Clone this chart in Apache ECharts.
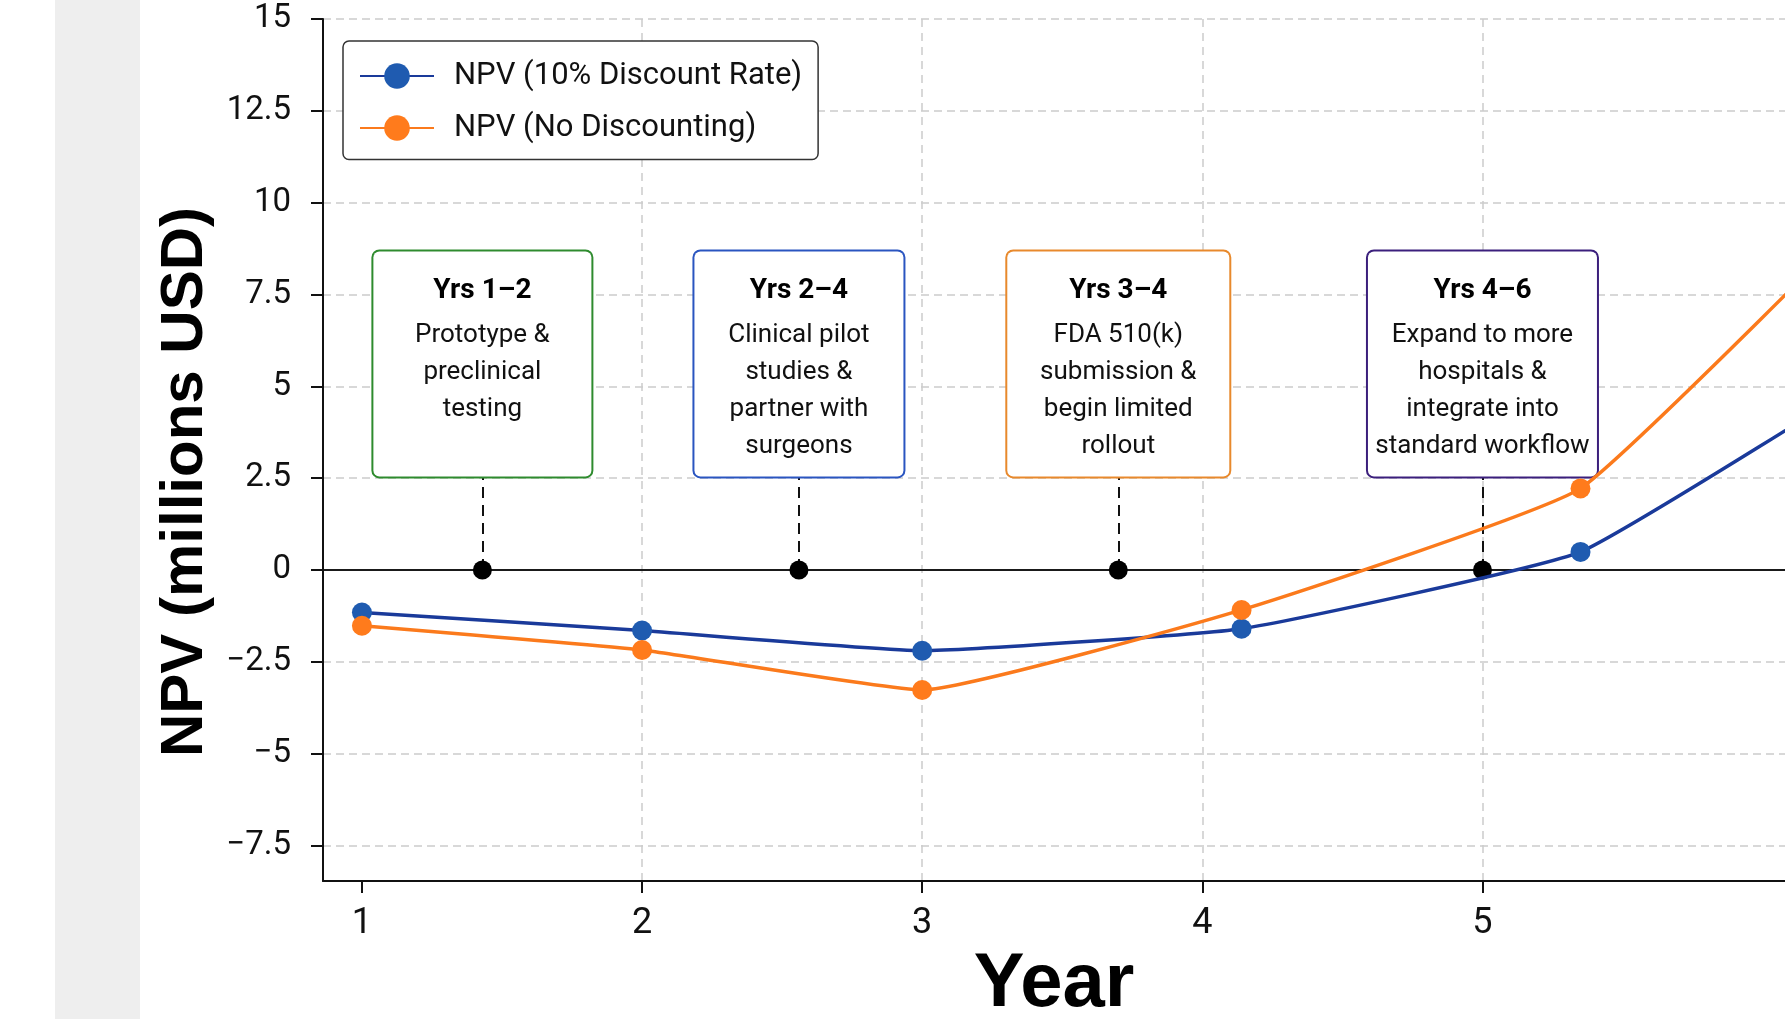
<!DOCTYPE html>
<html>
<head>
<meta charset="utf-8">
<script src="https://cdn.jsdelivr.net/npm/echarts@6/dist/echarts.min.js"></script>
<style>
html,body{margin:0;padding:0;background:#ffffff;}
#chart{width:1785px;height:1019px;}
</style>
</head>
<body>
<div id="chart"></div>
<script>
// ---- data ----
const years = [1, 2, 3, 4.14, 5.35, 6.5];
const npvDiscounted = [-1.16, -1.65, -2.2, -1.6, 0.49, 5.8];
const npvUndiscounted = [-1.52, -2.18, -3.27, -1.09, 2.22, 10.7];
const xTicks = [1, 2, 3, 4, 5];
const xGridValues = [2, 3, 4, 5];
const yTicks = [-7.5, -5, -2.5, 0, 2.5, 5, 7.5, 10, 12.5, 15];
const milestoneYears = [1.43, 2.56, 3.70, 5.0];
const milestoneTitles = ['Yrs 1–2', 'Yrs 2–4', 'Yrs 3–4', 'Yrs 4–6'];
const milestoneLines = [
  ['Prototype &', 'preclinical', 'testing'],
  ['Clinical pilot', 'studies &', 'partner with', 'surgeons'],
  ['FDA 510(k)', 'submission &', 'begin limited', 'rollout'],
  ['Expand to more', 'hospitals &', 'integrate into', 'standard workflow']
];
const boxBottomValue = 2.53;

// ---- styles ----
const boxColors = ['#2e8b2e', '#2a55c0', '#e8892c', '#3b1f7c'];
const boxWidths = [218, 209, 222, 229];
const blueLine = '#1a3a9a', blueDot = '#1f5bb0';
const orangeLine = '#fb7a1c', orangeDot = '#ff7b1c';
const fontMain = 'Roboto';

const chart = echarts.init(document.getElementById('chart'), null, {renderer: 'canvas'});

const milestoneData = milestoneYears.map((x, i) => ({
  value: [x, 0],
  label: {
    borderColor: boxColors[i],
    width: boxWidths[i] - 16,
    formatter: () => '{t|' + milestoneTitles[i] + '}\n' + milestoneLines[i].map(s => '{b|' + s + '}').join('\n')
  }
}));

const option = {
  animation: false,
  backgroundColor: '#ffffff',
  graphic: [{
    type: 'rect', left: 55, top: 0, z: -10,
    shape: {width: 85, height: 1019},
    style: {fill: '#eeeeee'}
  }],
  grid: {left: 323, right: 0, top: 19, bottom: 138, containLabel: false, outerBoundsMode: 'none'},
  legend: {
    data: ['NPV (10% Discount Rate)', 'NPV (No Discounting)'],
    orient: 'vertical',
    left: 343, top: 41,
    padding: [19.5, 16, 16, 16],
    itemWidth: 74, itemHeight: 32, itemGap: 21,
    backgroundColor: '#ffffff',
    borderColor: '#333333', borderWidth: 1.5, borderRadius: 6,
    textStyle: {fontFamily: fontMain, fontSize: 31, color: '#111111', padding: [0, 0, 0, 15]},
    selectedMode: false
  },
  xAxis: {
    type: 'value', min: 0.861, max: 6.08,
    name: 'Year', nameLocation: 'middle', nameGap: 65,
    nameTextStyle: {fontFamily: 'Liberation Sans', fontWeight: 'bold', fontSize: 76, color: '#000000'},
    axisLine: {show: true, onZero: false, lineStyle: {color: '#111111', width: 2}},
    axisTick: {show: true, customValues: xTicks, length: 12, lineStyle: {color: '#111111', width: 2}},
    axisLabel: {customValues: xTicks, fontFamily: fontMain, fontSize: 36, color: '#111111', margin: 25},
    splitLine: {show: false}
  },
  yAxis: {
    type: 'value', min: -8.47, max: 15,
    name: 'NPV (millions USD)', nameLocation: 'middle', nameGap: 102, nameRotate: 90,
    nameTextStyle: {fontFamily: 'Liberation Sans', fontWeight: 'bold', fontSize: 60, color: '#000000', padding: [0, 64, 0, 0]},
    axisLine: {show: true, onZero: false, lineStyle: {color: '#111111', width: 2}},
    axisTick: {show: true, customValues: yTicks, length: 12, lineStyle: {color: '#111111', width: 2}},
    axisLabel: {
      customValues: yTicks, fontFamily: fontMain, fontSize: 33, color: '#111111', margin: 32,
      formatter: v => (v < 0 ? '\u2212' + Math.abs(v) : String(v))
    },
    splitLine: {show: true, lineStyle: {color: '#cccccc', width: 1.5, type: [8, 5]}}
  },
  series: [
    {
      name: 'gridlines', type: 'line', data: [], silent: true,
      markLine: {
        silent: true, symbol: 'none', z: 0, animation: false,
        label: {show: false},
        data: xGridValues.map(v => ({xAxis: v, lineStyle: {color: '#cccccc', width: 1.5, type: [8, 6]}}))
          .concat([{yAxis: 0, lineStyle: {color: '#1a1a1a', width: 2.2, type: 'solid'}}])
      }
    },
    {
      name: 'milestones', type: 'scatter', z: 1,
      symbol: 'circle', symbolSize: 19,
      itemStyle: {color: '#000000', opacity: 1},
      silent: true,
      data: milestoneData,
      label: {
        show: true, position: 'top', distance: 84,
        backgroundColor: '#ffffff', borderWidth: 2, borderRadius: 6,
        padding: [13, 8, 0, 8], height: 212, align: 'center',
        rich: {
          t: {fontFamily: fontMain, fontWeight: 'bold', fontSize: 28, lineHeight: 52.8, color: '#000000', align: 'center'},
          b: {fontFamily: fontMain, fontSize: 26, lineHeight: 36.8, color: '#111111', align: 'center'}
        }
      },
      emphasis: {disabled: true},
      markLine: {
        silent: true, symbol: 'none', z: 0.8, animation: false,
        label: {show: false},
        lineStyle: {color: '#111111', width: 2, type: [11, 7]},
        data: milestoneYears.map(x => [{coord: [x, 0]}, {coord: [x, boxBottomValue]}])
      }
    },
    {
      name: 'NPV (10% Discount Rate)', type: 'line', z: 3,
      data: years.map((x, i) => [x, npvDiscounted[i]]),
      smooth: 0.12, symbol: 'circle', symbolSize: 20, showSymbol: true,
      lineStyle: {color: blueLine, width: 3.5},
      itemStyle: {color: blueDot, opacity: 1},
      emphasis: {disabled: true}
    },
    {
      name: 'NPV (No Discounting)', type: 'line', z: 3,
      data: years.map((x, i) => [x, npvUndiscounted[i]]),
      smooth: 0.12, symbol: 'circle', symbolSize: 20, showSymbol: true,
      lineStyle: {color: orangeLine, width: 3.5},
      itemStyle: {color: orangeDot, opacity: 1},
      emphasis: {disabled: true}
    }
  ]
};
chart.setOption(option);
</script>
</body>
</html>
